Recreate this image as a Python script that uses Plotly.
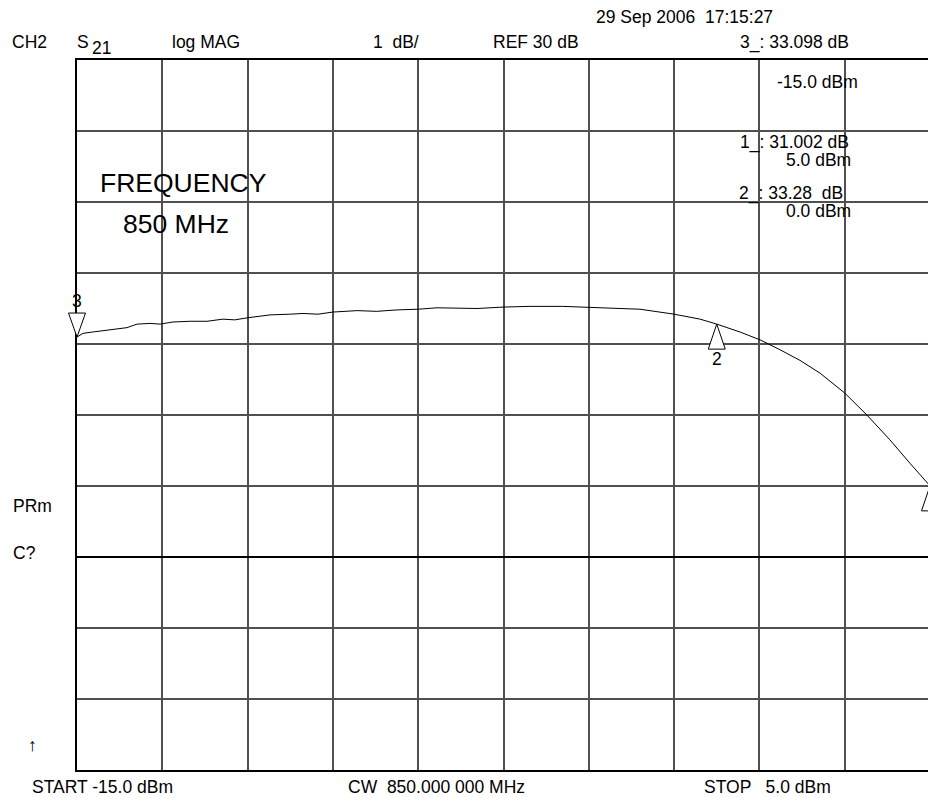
import plotly.graph_objects as go

# ---------------- data ----------------
# Sweep: input power (dBm) vs. S21 log magnitude (dB), CW 850 MHz
power_dbm = [-15.00, -14.86, -14.62, -14.39, -14.06, -13.83, -13.59, -13.29, -13.05, -12.75,
             -12.35, -11.95, -11.58, -11.30, -10.99, -10.47, -10.01, -9.70, -9.35, -9.00,
             -8.43, -7.97, -7.50, -7.00, -6.56, -5.95, -5.62, -5.01, -4.38, -3.61,
             -2.97, -2.27, -1.80, -1.00, -0.39, 0.00, 0.54, 1.01, 1.48, 1.95,
             2.42, 3.00, 3.52, 4.06, 4.53, 4.95, 5.00]
s21_db = [33.098, 33.15, 33.17, 33.19, 33.21, 33.23, 33.28, 33.29, 33.28, 33.31,
          33.32, 33.32, 33.35, 33.34, 33.37, 33.41, 33.42, 33.43, 33.42, 33.45,
          33.47, 33.46, 33.48, 33.49, 33.51, 33.51, 33.50, 33.52, 33.53, 33.53,
          33.52, 33.50, 33.49, 33.42, 33.35, 33.28, 33.17, 33.06, 32.92, 32.77,
          32.59, 32.31, 32.00, 31.65, 31.32, 31.04, 31.002]

# markers
marker_ids = ["1", "2", "3"]
marker_power = [5.0, 0.0, -15.0]
marker_gain = [31.002, 33.28, 33.098]
marker_dir = ["up", "up", "down"]

# scale settings
START_DBM, STOP_DBM = -15.0, 5.0
X_DIV = 2.0
REF_DB = 30.0
DB_PER_DIV = 1.0
Y_MIN, Y_MAX = 27.0, 37.0
X_VISIBLE_END = 4.953   # right border of the screen falls just past the window

# ---------------- figure ----------------
FONT = "Liberation Sans, Arial, sans-serif"
FS = 17.5
W, H = 928, 798
ML, MR, MT, MB = 77, 0, 60, 28
PW, PH = W - ML - MR, H - MT - MB

fig = go.Figure()
fig.add_trace(go.Scatter(x=power_dbm, y=s21_db, mode="lines",
                         line=dict(color="black", width=1), hoverinfo="x+y"))

shapes = []
# reference line
shapes.append(dict(type="line", xref="paper", yref="y", x0=0, x1=1, y0=REF_DB, y1=REF_DB,
                   line=dict(color="black", width=2), layer="above"))

annotations = []
for mid, mx, my, d in zip(marker_ids, marker_power, marker_gain, marker_dir):
    if mx == START_DBM:
        xref, xanc = "x domain", 0
    else:
        xref, xanc = "x", mx
    if d == "down":
        path = "M 0 0 L -8.5 24 L 8.5 24 Z"
        yshift = 36
    else:
        path = "M 0 0 L -8.5 -25 L 8.5 -25 Z"
        yshift = -35
    shapes.append(dict(type="path", xref=xref, yref="y", xsizemode="pixel", ysizemode="pixel",
                       xanchor=xanc, yanchor=my, path=path,
                       line=dict(color="black", width=1), fillcolor="white", layer="above"))
    if mx <= X_VISIBLE_END:
        annotations.append(dict(text=mid, xref=xref, yref="y", x=xanc, y=my, yshift=yshift,
                                showarrow=False, xanchor="center", yanchor="middle",
                                font=dict(size=FS, family=FONT, color="black")))


def ann(text, xp, yp, size=FS, anchor="left"):
    return dict(text=text, xref="paper", yref="paper",
                x=(xp - ML) / PW, y=(H - MB - yp) / PH,
                xanchor=anchor, yanchor="middle", showarrow=False,
                font=dict(size=size, family=FONT, color="black"))


header = [
    ("CH2", 10, 42), ("S", 75, 42), ("21", 90, 48), ("log MAG", 170, 42),
    ("1  dB/", 371, 42), ("REF 30 dB", 491, 42), ("29 Sep 2006  17:15:27", 594, 17),
    ("3_: 33.098 dB", 738, 42), ("-15.0 dBm", 775, 82),
    ("1_: 31.002 dB", 738, 143), ("5.0 dBm", 784, 160),
    ("2_: 33.28  dB", 737, 194), ("0.0 dBm", 784, 211),
    ("PRm", 11, 506), ("C?", 11, 553), ("\u2191", 26, 745),
    ("START -15.0 dBm", 30, 787), ("CW  850.000 000 MHz", 346, 787), ("STOP   5.0 dBm", 702, 787),
]
for t, xp, yp in header:
    annotations.append(ann(t, xp, yp))
annotations.append(ann("FREQUENCY", 98, 183, size=26.5))
annotations.append(ann("850 MHz", 121, 224, size=26.5))

grid = "#505050"
fig.update_layout(
    width=W, height=H, autosize=False,
    margin=dict(l=ML, r=MR, t=MT, b=MB, pad=0),
    paper_bgcolor="white", plot_bgcolor="white",
    showlegend=False,
    xaxis=dict(range=[START_DBM, X_VISIBLE_END], tick0=START_DBM, dtick=X_DIV,
               showgrid=True, gridcolor=grid, gridwidth=1.5, zeroline=False,
               showticklabels=False, ticks="", showline=True, linecolor="black",
               linewidth=1.5, mirror=True, fixedrange=True),
    yaxis=dict(range=[Y_MIN, Y_MAX], tick0=Y_MIN, dtick=DB_PER_DIV,
               showgrid=True, gridcolor=grid, gridwidth=1.5, zeroline=False,
               showticklabels=False, ticks="", showline=True, linecolor="black",
               linewidth=1.5, mirror=False, fixedrange=True),
    shapes=shapes, annotations=annotations,
    font=dict(family=FONT, color="black"),
)

fig.write_html("out.html", config={"displayModeBar": False},
               post_script="document.body.style.margin='0';document.body.style.overflow='hidden';")
